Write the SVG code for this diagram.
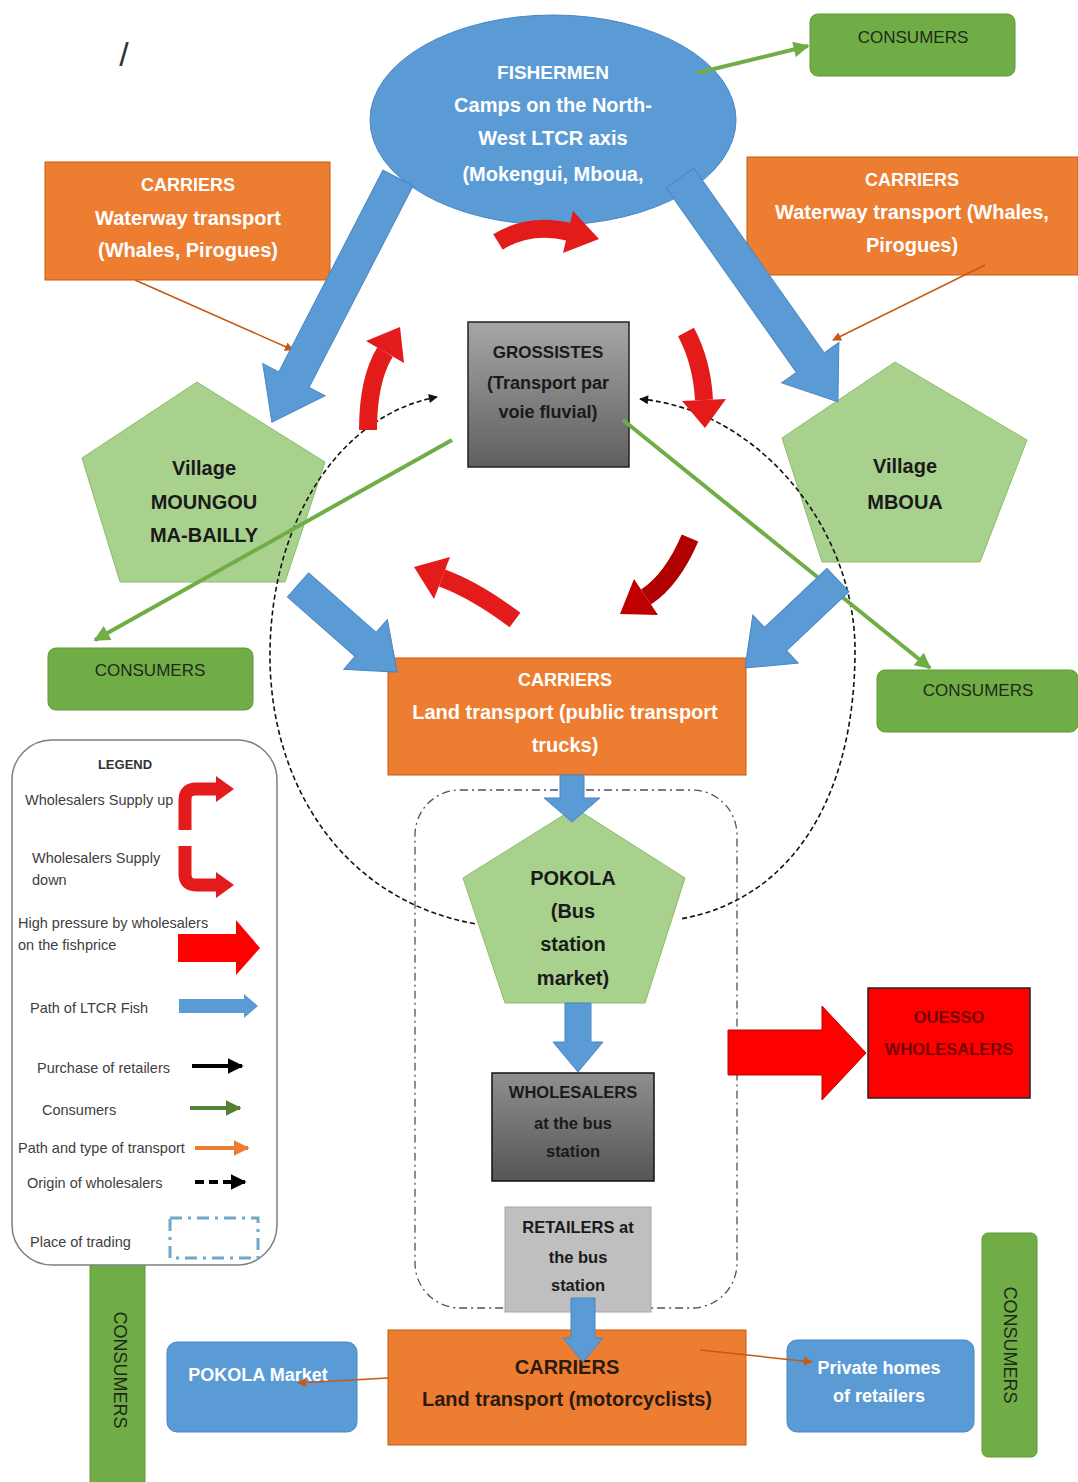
<svg xmlns="http://www.w3.org/2000/svg" width="1078" height="1482" viewBox="0 0 1078 1482">
<style>
text{font-family:"Liberation Sans",Arial,sans-serif;text-anchor:middle}
.w{fill:#fff;font-weight:bold}
.d{fill:#1a1a1a;font-weight:bold}
.c{fill:#1f2a16;font-size:17px}
.lg{fill:#404040;font-size:14.5px;text-anchor:start}
.blue{fill:#5b9bd5;stroke:#4a86c5;stroke-width:1}
.org{fill:#ed7d31;stroke:#c55a11;stroke-width:1}
.grn{fill:#70ad47;stroke:#5f9a38;stroke-width:1}
.pent{fill:#a9d18e;stroke:#8cbd6a;stroke-width:1}
.rc{fill:none;stroke:#e31b1b;stroke-width:18}
.rh{fill:#e31b1b}
.gl{stroke:#70ad47;stroke-width:4;fill:none}
.ol{stroke:#c55a11;stroke-width:1.5;fill:none}
</style>
<defs>
<linearGradient id="gg1" x1="0" y1="0" x2="0" y2="1"><stop offset="0" stop-color="#a6a6a6"/><stop offset="1" stop-color="#5f5f5f"/></linearGradient>
<linearGradient id="gg2" x1="0" y1="0" x2="0" y2="1"><stop offset="0" stop-color="#8f8f8f"/><stop offset="1" stop-color="#555"/></linearGradient>
<marker id="mg" viewBox="0 0 10 10" refX="9" refY="5" markerWidth="18" markerHeight="16" markerUnits="userSpaceOnUse" orient="auto"><path d="M0 0L10 5L0 10z" fill="#70ad47"/></marker>
<marker id="mo" viewBox="0 0 10 10" refX="9" refY="5" markerWidth="9" markerHeight="9" markerUnits="userSpaceOnUse" orient="auto"><path d="M0 0L10 5L0 10z" fill="#c55a11"/></marker>
<marker id="mk" viewBox="0 0 10 10" refX="9" refY="5" markerWidth="10" markerHeight="9" markerUnits="userSpaceOnUse" orient="auto-start-reverse"><path d="M0 0L10 5L0 10z" fill="#111"/></marker>
<marker id="mlk" viewBox="0 0 10 10" refX="9" refY="5" markerWidth="16" markerHeight="16" markerUnits="userSpaceOnUse" orient="auto"><path d="M0 0L10 5L0 10z" fill="#000"/></marker>
<marker id="mlg" viewBox="0 0 10 10" refX="9" refY="5" markerWidth="16" markerHeight="16" markerUnits="userSpaceOnUse" orient="auto"><path d="M0 0L10 5L0 10z" fill="#548235"/></marker>
<marker id="mlo" viewBox="0 0 10 10" refX="9" refY="5" markerWidth="16" markerHeight="16" markerUnits="userSpaceOnUse" orient="auto"><path d="M0 0L10 5L0 10z" fill="#ed7d31"/></marker>
</defs>
<rect width="1078" height="1482" fill="#fff"/>
<text x="124" y="66" style="font-size:34px;fill:#333">/</text>

<!-- nodes -->
<g id="fishermen"><ellipse cx="553" cy="120" rx="183" ry="105" class="blue"/>
<text class="w" x="553" y="79" style="font-size:19px">FISHERMEN</text>
<text class="w" x="553" y="112" style="font-size:20px">Camps on the North-</text>
<text class="w" x="553" y="145" style="font-size:20px">West LTCR axis</text>
<text class="w" x="553" y="181" style="font-size:20px">(Mokengui, Mboua,</text></g>
<g id="consumers-top"><rect x="810" y="14" width="205" height="62" rx="8" class="grn"/><text class="c" x="913" y="43">CONSUMERS</text></g>
<g id="carriers-left"><rect x="45" y="162" width="285" height="118" class="org"/>
<text class="w" x="188" y="191" style="font-size:18px">CARRIERS</text>
<text class="w" x="188" y="225" style="font-size:20px">Waterway transport</text>
<text class="w" x="188" y="257" style="font-size:20px">(Whales, Pirogues)</text></g>
<g id="carriers-right"><rect x="747" y="157" width="331" height="118" class="org"/>
<text class="w" x="912" y="186" style="font-size:18px">CARRIERS</text>
<text class="w" x="912" y="219" style="font-size:20px">Waterway transport (Whales,</text>
<text class="w" x="912" y="252" style="font-size:20px">Pirogues)</text></g>
<g id="grossistes"><rect x="468" y="322" width="161" height="145" fill="url(#gg1)" stroke="#222" stroke-width="1.5"/>
<text class="d" x="548" y="358" style="font-size:17px">GROSSISTES</text>
<text class="d" x="548" y="389" style="font-size:18px">(Transport par</text>
<text class="d" x="548" y="418" style="font-size:18px">voie fluvial)</text></g>
<g id="village-moungou"><polygon points="197,382 325,462 285,582 120,582 82,458" class="pent"/>
<text class="d" x="204" y="475" style="font-size:20px">Village</text>
<text class="d" x="204" y="509" style="font-size:20px">MOUNGOU</text>
<text class="d" x="204" y="542" style="font-size:20px">MA-BAILLY</text></g>
<g id="village-mboua"><polygon points="895,362 1027,440 980,562 822,562 782,438" class="pent"/>
<text class="d" x="905" y="473" style="font-size:20px">Village</text>
<text class="d" x="905" y="509" style="font-size:20px">MBOUA</text></g>
<g id="consumers-left"><rect x="48" y="648" width="205" height="62" rx="8" class="grn"/><text class="c" x="150" y="676">CONSUMERS</text></g>
<g id="consumers-right"><rect x="877" y="670" width="201" height="62" rx="8" class="grn"/><text class="c" x="978" y="696">CONSUMERS</text></g>
<g id="carriers-land"><rect x="388" y="658" width="358" height="117" class="org"/>
<text class="w" x="565" y="686" style="font-size:18px">CARRIERS</text>
<text class="w" x="565" y="719" style="font-size:20px">Land transport (public transport</text>
<text class="w" x="565" y="752" style="font-size:20px">trucks)</text></g>
<g id="place-of-trading"><rect x="415" y="790" width="322" height="518" rx="45" fill="none" stroke="#44546a" stroke-width="1.3" stroke-dasharray="8 4 2 4"/></g>
<g id="pokola"><polygon points="575,808 685,878 645,1003 505,1003 463,878" class="pent"/>
<text class="d" x="573" y="885" style="font-size:20px">POKOLA</text>
<text class="d" x="573" y="918" style="font-size:20px">(Bus</text>
<text class="d" x="573" y="951" style="font-size:20px">station</text>
<text class="d" x="573" y="985" style="font-size:20px">market)</text></g>
<g id="wholesalers-bus"><rect x="492" y="1073" width="162" height="108" fill="url(#gg2)" stroke="#111" stroke-width="1.5"/>
<text class="d" x="573" y="1098" style="font-size:16.5px">WHOLESALERS</text>
<text class="d" x="573" y="1129" style="font-size:16.5px">at the bus</text>
<text class="d" x="573" y="1157" style="font-size:16.5px">station</text></g>
<g id="retailers-bus"><rect x="505" y="1207" width="146" height="105" fill="#bfbfbf" stroke="#a6a6a6"/>
<text class="d" x="578" y="1233" style="font-size:16.5px">RETAILERS at</text>
<text class="d" x="578" y="1263" style="font-size:16.5px">the bus</text>
<text class="d" x="578" y="1291" style="font-size:16.5px">station</text></g>
<g id="ouesso"><rect x="868" y="988" width="162" height="110" fill="#ff0000" stroke="#222" stroke-width="1.5"/>
<text x="949" y="1023" style="font-size:16.5px;font-weight:bold;fill:#7a0000">OUESSO</text>
<text x="949" y="1055" style="font-size:16.5px;font-weight:bold;fill:#7a0000">WHOLESALERS</text></g>
<g id="carriers-moto"><rect x="388" y="1330" width="358" height="115" class="org"/>
<text class="d" x="567" y="1374" style="font-size:20px;fill:#2a1a10">CARRIERS</text>
<text class="d" x="567" y="1406" style="font-size:20px;fill:#2a1a10">Land transport (motorcyclists)</text></g>
<g id="pokola-market"><rect x="167" y="1342" width="190" height="90" rx="10" class="blue"/>
<text class="w" x="258" y="1381" style="font-size:18px">POKOLA Market</text></g>
<g id="private-homes"><rect x="787" y="1340" width="187" height="92" rx="10" class="blue"/>
<text class="w" x="879" y="1374" style="font-size:18px">Private homes</text>
<text class="w" x="879" y="1402" style="font-size:18px">of retailers</text></g>
<g id="consumers-vleft"><rect x="90" y="1257" width="55" height="232" rx="6" class="grn"/>
<text class="c" transform="translate(120,1370) rotate(90)" x="0" y="6" style="font-size:18px">CONSUMERS</text></g>
<g id="consumers-vright"><rect x="982" y="1233" width="55" height="224" rx="6" class="grn"/>
<text class="c" transform="translate(1010,1345) rotate(90)" x="0" y="6" style="font-size:18px">CONSUMERS</text></g>

<!-- connectors -->
<g id="connectors">
<path d="M437 397C340 415 272 520 270 650C268 780 340 900 476 924" fill="none" stroke="#111" stroke-width="1.6" stroke-dasharray="5 3" marker-start="url(#mk)"/>
<path d="M640 399C760 410 855 530 855 650C855 800 790 900 680 919" fill="none" stroke="#111" stroke-width="1.6" stroke-dasharray="5 3" marker-start="url(#mk)"/>
<line x1="697" y1="73" x2="808" y2="46" class="gl" marker-end="url(#mg)"/>
<line x1="452" y1="440" x2="95" y2="640" class="gl" marker-end="url(#mg)"/>
<line x1="623" y1="420" x2="930" y2="668" class="gl" marker-end="url(#mg)"/>
<line x1="135" y1="280" x2="293" y2="350" class="ol" marker-end="url(#mo)"/>
<line x1="985" y1="265" x2="833" y2="340" class="ol" marker-end="url(#mo)"/>
<line x1="388" y1="1378" x2="298" y2="1383" class="ol" marker-end="url(#mo)"/>
<line x1="700" y1="1350" x2="812" y2="1362" class="ol" marker-end="url(#mo)"/>
<path transform="translate(398,178) rotate(117.3)" d="M0 -17L227 -17L227 -35L275 0L227 35L227 17L0 17Z" class="blue"/>
<path transform="translate(680,178) rotate(54.8)" d="M0 -17L226 -17L226 -35L274 0L226 35L226 17L0 17Z" class="blue"/>
<path transform="translate(298,585) rotate(41.3)" d="M0 -16L90 -16L90 -33L132 0L90 33L90 16L0 16Z" class="blue"/>
<path transform="translate(838,580) rotate(136.6)" d="M0 -16L86 -16L86 -33L128 0L86 33L86 16L0 16Z" class="blue"/>
<path transform="translate(572,775) rotate(90)" d="M0 -12L23 -12L23 -28L47 0L23 28L23 12L0 12Z" class="blue"/>
<path transform="translate(578,1003) rotate(90)" d="M0 -13L39 -13L39 -25L69 0L39 25L39 13L0 13Z" class="blue"/>
<path transform="translate(583,1298) rotate(90)" d="M0 -12L40 -12L40 -20L64 0L40 20L40 12L0 12Z" class="blue"/>
<path d="M498 242Q530 222 570 232" class="rc"/><polygon points="573,211 599,239 563,253" class="rh"/>
<path d="M368 430Q368 380 385 352" class="rc"/><polygon points="404,363 400,327 366,341" class="rh"/>
<path d="M686 332Q702 362 704 400" class="rc"/><polygon points="726,399 705,428 682,401" class="rh"/>
<path d="M515 620Q475 590 442 578" class="rc"/><polygon points="450,557 414,567 434,599" class="rh"/>
<path d="M690 538Q672 580 646 597" class="rc" style="stroke:#b00000"/><polygon points="658,615 620,614 634,579" fill="#c00000"/>
<polygon points="728,1030 822,1030 822,1006 866,1053 822,1100 822,1075 728,1075" fill="#ff0000" stroke="#c00000" stroke-width="1"/>
</g>

<g id="legend">
<rect x="12" y="740" width="265" height="525" rx="40" fill="#fff" stroke="#7f7f7f" stroke-width="1.5"/>
<text x="125" y="769" style="font-size:13px;font-weight:bold;fill:#333">LEGEND</text>
<text class="lg" x="25" y="805">Wholesalers Supply up</text>
<path d="M185 830L185 800Q185 789 196 789L216 789" fill="none" stroke="#e31b1b" stroke-width="13"/><polygon points="216,776 234,789 216,802" class="rh"/>
<text class="lg" x="32" y="863">Wholesalers Supply</text>
<text class="lg" x="32" y="885">down</text>
<path d="M185 846L185 874Q185 885 196 885L216 885" fill="none" stroke="#e31b1b" stroke-width="13"/><polygon points="216,872 234,885 216,898" class="rh"/>
<text class="lg" x="18" y="928">High pressure by wholesalers</text>
<text class="lg" x="18" y="950">on the fishprice</text>
<polygon points="178,934 236,934 236,920 260,948 236,975 236,962 178,962" fill="#ff0000"/>
<text class="lg" x="30" y="1013">Path of LTCR Fish</text>
<polygon points="179,999 244,999 244,994 258,1006 244,1018 244,1013 179,1013" fill="#5b9bd5"/>
<text class="lg" x="37" y="1073">Purchase of retailers</text>
<line x1="192" y1="1066" x2="242" y2="1066" stroke="#000" stroke-width="4" marker-end="url(#mlk)"/>
<text class="lg" x="42" y="1115">Consumers</text>
<line x1="190" y1="1108" x2="240" y2="1108" stroke="#548235" stroke-width="4" marker-end="url(#mlg)"/>
<text class="lg" x="18" y="1153">Path and type of transport</text>
<line x1="195" y1="1148" x2="248" y2="1148" stroke="#ed7d31" stroke-width="4" marker-end="url(#mlo)"/>
<text class="lg" x="27" y="1188">Origin of wholesalers</text>
<line x1="195" y1="1182" x2="245" y2="1182" stroke="#000" stroke-width="4" stroke-dasharray="9 5" marker-end="url(#mlk)"/>
<text class="lg" x="30" y="1247">Place of trading</text>
<rect x="170" y="1218" width="88" height="40" fill="none" stroke="#6fa8c8" stroke-width="3" stroke-dasharray="12 6 3 6"/>
</g>
</svg>
